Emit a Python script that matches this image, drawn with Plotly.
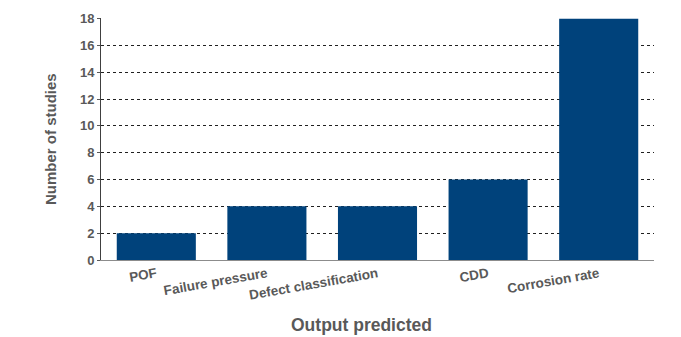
import plotly.graph_objects as go

categories = ["POF", "Failure pressure", "Defect classification", "CDD", "Corrosion rate"]
values = [2, 4, 4, 6, 18]
y_ticks = [0, 2, 4, 6, 8, 10, 12, 14, 16, 18]

W, H = 681, 337
L, R, T, B = 101, 27, 18, 77

fig = go.Figure(go.Bar(x=categories, y=values, marker_color="#00427B", marker_line_width=0))

fig.update_layout(
    width=W, height=H,
    margin=dict(l=L, r=R, t=T, b=B),
    plot_bgcolor="white", paper_bgcolor="white",
    bargap=0.285,
    font=dict(family="Liberation Sans, Arial, sans-serif", color="#595959"),
    showlegend=False,
)
fig.update_xaxes(
    range=[-0.5, 4.5], automargin=False,
    tickangle=-10,
    tickfont=dict(size=13.5, color="#595959", family="Liberation Sans, Arial, sans-serif", weight="bold"),
    showline=True, linecolor="#8C8C8C", linewidth=1,
    ticks="", showgrid=False,
)
fig.update_yaxes(
    range=[0, 18.05], automargin=False,
    tickvals=y_ticks,
    tickfont=dict(size=13, color="#595959", family="Liberation Sans, Arial, sans-serif", weight="bold"),
    showline=True, linecolor="#404040", linewidth=1,
    ticks="outside", ticklen=3, tickcolor="#595959",
    showgrid=True, gridcolor="#202020", griddash="dot", gridwidth=1,
    zeroline=False,
)
pw = W - L - R
ph = H - T - B
fig.add_annotation(
    text="<b>Output predicted</b>", xref="paper", yref="paper",
    x=(361 - L) / pw, y=-(325 - (H - B)) / ph, showarrow=False,
    font=dict(size=17.5, color="#595959"), xanchor="center", yanchor="middle",
)
fig.add_annotation(
    text="<b>Number of studies</b>", xref="paper", yref="paper",
    x=-(L - 50) / pw, y=0.5, showarrow=False, textangle=-90,
    font=dict(size=15, color="#595959"), xanchor="center", yanchor="middle",
)

fig.write_html("out.html")
